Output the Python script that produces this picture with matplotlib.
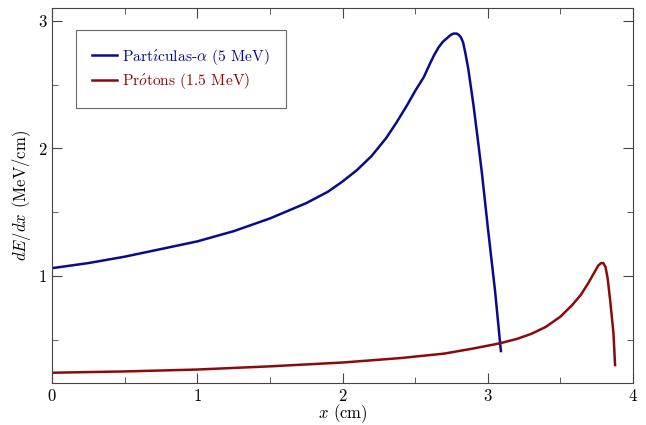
import matplotlib
matplotlib.use("Agg")
import matplotlib.pyplot as plt
from matplotlib.ticker import MultipleLocator

plt.rcParams['font.family'] = 'serif'
plt.rcParams['font.serif'] = ['cmr10']
plt.rcParams['mathtext.fontset'] = 'cm'
plt.rcParams['axes.formatter.use_mathtext'] = True

# partículas alfa (5 MeV)
x_alfa = [0.0, 0.25, 0.5, 0.75, 1.0, 1.25, 1.5, 1.75, 1.9, 2.0, 2.1, 2.2, 2.3, 2.37,
          2.44, 2.5, 2.56, 2.6, 2.63, 2.66, 2.69, 2.72, 2.745, 2.765, 2.785, 2.80,
          2.815, 2.83, 2.845, 2.866, 2.90, 2.93, 2.96, 3.0, 3.05, 3.09]
y_alfa = [1.06, 1.10, 1.15, 1.21, 1.27, 1.35, 1.45, 1.57, 1.66, 1.74, 1.83, 1.94, 2.08, 2.20,
          2.33, 2.45, 2.56, 2.66, 2.73, 2.79, 2.835, 2.865, 2.89, 2.90, 2.90, 2.89,
          2.87, 2.83, 2.75, 2.62, 2.35, 2.08, 1.80, 1.38, 0.88, 0.41]

# prótons (1.5 MeV)
x_prot = [0.0, 0.5, 1.0, 1.5, 2.0, 2.4, 2.7, 2.9, 3.08, 3.2, 3.3, 3.4, 3.5, 3.58,
          3.64, 3.69, 3.73, 3.76, 3.78, 3.795, 3.81, 3.825, 3.842, 3.865, 3.876]
y_prot = [0.24, 0.25, 0.265, 0.29, 0.32, 0.355, 0.39, 0.43, 0.47, 0.505, 0.545, 0.60,
          0.68, 0.77, 0.85, 0.94, 1.02, 1.08, 1.10, 1.10, 1.07, 0.98, 0.81, 0.55, 0.30]

fig = plt.figure(figsize=(6.46, 4.25), dpi=100)
ax = fig.add_axes([0.0805, 0.099, 0.8995, 0.882])

ax.plot(x_alfa, y_alfa, color='#0a0a8c', lw=1.8,
        label=r'Part$\acute{\imath}$culas-$\alpha$ (5 MeV)')
ax.plot(x_prot, y_prot, color='#8b0a0a', lw=1.8,
        label=r'Pr$\acute{o}$tons (1.5 MeV)')

ax.set_xlim(0, 4)
ax.set_ylim(0.16, 3.1)
ax.xaxis.set_major_locator(MultipleLocator(1))
ax.xaxis.set_minor_locator(MultipleLocator(0.5))
ax.yaxis.set_major_locator(MultipleLocator(1))
ax.yaxis.set_minor_locator(MultipleLocator(0.5))
ax.tick_params(which='both', direction='in', top=True, right=True,
               color='#444444', labelsize=12)
ax.tick_params(which='major', length=7)
ax.tick_params(which='minor', length=4)
for s in ax.spines.values():
    s.set_color('#444444')

ax.set_xlabel(r'$x$ (cm)', fontsize=12, labelpad=-1)
ax.set_ylabel(r'$dE/dx$ (MeV/cm)', fontsize=12, labelpad=3)

leg = ax.legend(loc='upper left', bbox_to_anchor=(0.041, 0.941), borderaxespad=0,
                fancybox=False, edgecolor='#444444', fontsize=11.2,
                labelcolor='linecolor', borderpad=1.05, handlelength=1.6,
                handletextpad=0.3, labelspacing=0.3)
leg.get_frame().set_linewidth(0.8)

plt.savefig('out.png', dpi=100)
